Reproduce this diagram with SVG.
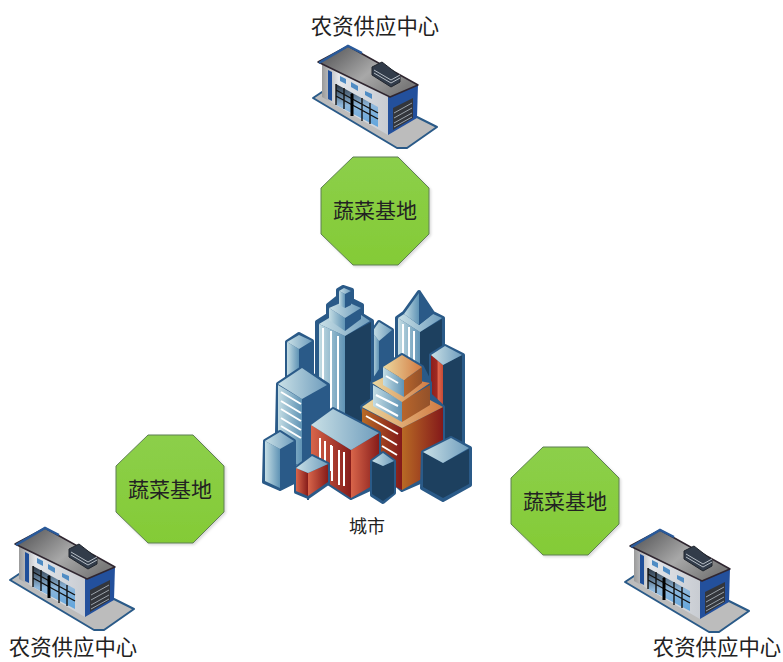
<svg xmlns="http://www.w3.org/2000/svg" xmlns:xlink="http://www.w3.org/1999/xlink" width="783" height="662" viewBox="0 0 783 662">
<style>
text{font-family:"Noto Sans CJK SC","Noto Sans CJK JP",sans-serif;fill:#222;text-anchor:middle}
.lab{font-size:21px}
.oct{fill:url(#gr);stroke:#5f7f55;stroke-width:1;filter:url(#sh)}
.out{stroke:#2a5a88;stroke-width:4;stroke-linejoin:round;fill:#2a5a88}
.glass{fill:url(#glass)}.top{fill:url(#top)}.blue{fill:#2a5a88}.navy{fill:#1d405f}
.red{fill:url(#red)}.brick{fill:url(#brick)}.tan{fill:url(#tan)}.brown{fill:url(#brown)}.org{fill:url(#org)}
.w{stroke:#fff;stroke-width:2;fill:none}
.k{stroke:#111;stroke-width:1.4;fill:none}
</style>
<defs>
<filter id="sh" x="-10%" y="-10%" width="125%" height="125%"><feDropShadow dx="1.5" dy="1.5" stdDeviation="1.2" flood-color="#000" flood-opacity=".15"/></filter>
<linearGradient id="gr" x1="0" y1="0" x2="0" y2="1"><stop offset="0" stop-color="#8ccf4a"/><stop offset="1" stop-color="#84cb36"/></linearGradient>
<linearGradient id="glass"><stop offset="0" stop-color="#c4dde4"/><stop offset="1" stop-color="#5f93b5"/></linearGradient>
<linearGradient id="top"><stop offset="0" stop-color="#c9e0e6"/><stop offset="1" stop-color="#6f9dbd"/></linearGradient>
<linearGradient id="red"><stop offset="0" stop-color="#d8654a"/><stop offset="1" stop-color="#861c1a"/></linearGradient>
<linearGradient id="brick"><stop offset="0" stop-color="#8c1f1c"/><stop offset=".5" stop-color="#a02a22"/><stop offset=".6" stop-color="#e0664c"/><stop offset="1" stop-color="#c44a35"/></linearGradient>
<linearGradient id="tan"><stop offset="0" stop-color="#ecd9a0"/><stop offset="1" stop-color="#d27a42"/></linearGradient>
<linearGradient id="brown"><stop offset="0" stop-color="#b86a25"/><stop offset="1" stop-color="#84191a"/></linearGradient>
<linearGradient id="org"><stop offset="0" stop-color="#b8662c"/><stop offset="1" stop-color="#93512a"/></linearGradient>
<linearGradient id="roof" x1="0" y1="0" x2="1" y2=".6"><stop offset="0" stop-color="#4a4a4c"/><stop offset=".6" stop-color="#a8a8a8"/><stop offset="1" stop-color="#7a7a7a"/></linearGradient>
<linearGradient id="wall"><stop offset="0" stop-color="#9a9a9a"/><stop offset=".25" stop-color="#e4e6ea"/><stop offset="1" stop-color="#c8ccd2"/></linearGradient>
<linearGradient id="win" x1="0" y1="0" x2="0" y2="1"><stop offset="0" stop-color="#26303c"/><stop offset=".5" stop-color="#8fb8dc"/><stop offset="1" stop-color="#5fa4dc"/></linearGradient>
<g id="wh">
<polygon points="313,98 322,92 417,117 437,127 407,148 397,148" fill="#bcbcbc" stroke="#2a5a88" stroke-width="2" stroke-linejoin="round"/>
<polygon points="322,63 322,97 388,135 388,97" fill="url(#wall)"/>
<polygon points="328,70 332,72 332,101 328,99" fill="#1f4f9a"/>
<polygon points="336,84 378,107 378,127 336,105" fill="url(#win)"/>
<path class="k" d="M336,84V105M344,88V109M352,93V116M362,98V121M370,103V124M336,90L378,113M336,96L378,119"/>
<path d="M352,94V116" stroke="#000" stroke-width="3"/>
<polygon points="340,76 346,79 346,84 340,81" fill="#4f8cc4"/><polygon points="351,82 358,86 358,91 351,87" fill="#4f8cc4"/><polygon points="365,91 372,94 372,99 365,95" fill="#4f8cc4"/>
<polygon points="388,97 418,84 417,118 388,135" fill="#23509c"/>
<polygon points="393,108 413,98 413,118 393,130" fill="#33363c"/>
<path d="M394,113L412,103M394,118L412,108M394,123L412,113M394,127L412,117" stroke="#9aa2aa" stroke-width="1"/>
<polygon points="318,62 348,46 418,85 390,97" fill="url(#roof)" stroke="#2f2630" stroke-width="1.5" stroke-linejoin="round"/>
<path d="M319,63L348,46L362,53" fill="none" stroke="#2a5a9a" stroke-width="2.5"/>
<polygon points="372,67 382,62 400,76 400,82 391,87 372,75" fill="#323c4a" stroke="#20252d" stroke-width="1"/>
<path d="M374,73L391,83L400,78M374,70L391,80L400,75" stroke="#b7bec6" stroke-width="1" fill="none"/>
</g>
</defs>
<rect width="783" height="662" fill="#fff"/>

<g id="supply-top"><use xlink:href="#wh" href="#wh"/><text class="lab" x="375" y="34" style="font-size:21.4px">农资供应中心</text></g>
<g id="supply-left"><use xlink:href="#wh" href="#wh" transform="translate(-303,482)"/><text class="lab" x="73" y="655" style="font-size:21.4px">农资供应中心</text></g>
<g id="supply-right"><use xlink:href="#wh" href="#wh" transform="translate(312,484)"/><text class="lab" x="717" y="655" style="font-size:21.4px">农资供应中心</text></g>

<g id="base-top"><polygon class="oct" points="353,157 398,157 429,188 429,234 398,265 353,265 321,234 321,188"/><text class="lab" x="375" y="218">蔬菜基地</text></g>
<g id="base-left"><polygon class="oct" points="148,435 193,435 224,466 224,512 193,543 148,543 116,512 116,466"/><text class="lab" x="170" y="497">蔬菜基地</text></g>
<g id="base-right"><polygon class="oct" points="543,447 588,447 619,478 619,524 588,555 543,555 511,524 511,478"/><text class="lab" x="565" y="509">蔬菜基地</text></g>

<g id="city">
<polygon class="out" points="287,342 299,334 312,341 312,400 287,400"/>
<polygon class="glass" points="287,342 299,349 299,400 287,400"/><polygon class="blue" points="299,349 312,341 312,400 299,400"/>
<polygon class="top" points="287,342 299,335 312,341 299,349"/>
<polygon class="out" points="372,332 379,322 392,330 392,400 372,400"/>
<polygon class="glass" points="372,332 379,341 379,400 372,400"/><polygon class="blue" points="379,341 392,330 392,400 379,400"/>
<polygon class="top" points="372,332 379,322 392,330 379,341"/>
<polygon class="out" points="338,290 343,287 352,290 352,300 362,305 362,315 372,321 372,425 317,425 317,322 328,315 328,305 338,297"/>
<polygon class="glass" points="319,324 345,336 345,425 319,425"/><polygon class="navy" points="345,336 371,322 371,425 345,425"/>
<path class="w" d="M323,328V420M331,331V420M338,336V420"/>
<polygon class="top" points="319,324 329,318 345,328 361,315 370,321 345,336"/>
<polygon class="glass" points="329,308 345,318 345,331 329,320"/><polygon class="blue" points="345,318 361,308 361,319 345,331"/>
<polygon class="top" points="329,308 345,301 361,308 345,318"/>
<polygon class="glass" points="339,291 345,294 345,308 339,305"/><polygon class="blue" points="345,294 351,291 351,305 345,308"/>
<polygon class="top" points="339,291 344,288 351,291 345,294"/>
<polygon class="out" points="419,292 433,313 443,318 443,425 397,425 397,318 404,313"/>
<polygon class="glass" points="398,318 420,332 420,425 398,425"/><polygon class="navy" points="420,332 442,319 442,425 420,425"/>
<path class="w" d="M403,324V390M409,327V395M414,331V395"/>
<polygon class="top" points="398,318 404,314 419,325 433,314 442,318 420,332"/>
<polygon class="glass" points="404,314 419,293 419,325"/><polygon class="blue" points="419,293 433,314 419,325"/>
<polygon class="out" points="431,355 445,346 463,355 463,445 431,445"/>
<polygon class="brick" points="431,355 443,365 443,445 431,445"/><polygon class="navy" points="443,365 462,355 462,445 443,445"/>
<polygon class="top" points="431,355 445,346 462,355 443,365"/>
<polygon class="out" points="278,384 302,368 328,385 328,470 302,470 277,433"/>
<polygon class="glass" points="278,385 302,399 302,470 278,445"/><polygon class="blue" points="302,399 327,385 327,470 302,470"/>
<path class="w" d="M281,392L301,404M281,401L301,413M281,409L301,421M281,418L301,430M281,426L301,438"/>
<polygon class="top" points="278,384 302,368 327,385 302,399"/>
<polygon class="out" points="265,441 280,432 294,441 294,482 280,489 264,482"/>
<polygon class="glass" points="265,441 280,449 280,488 265,481"/><polygon class="blue" points="280,449 294,441 294,482 280,488"/>
<polygon class="top" points="265,441 280,432 294,441 280,449"/>
<polygon class="out" points="362,407 372,400 372,383 383,367 402,355 422,367 430,383 430,395 443,407 443,455 425,480 402,490 380,470"/>
<polygon class="brown" points="362,408 402,428 402,490 362,470"/>
<polygon class="brown" points="402,428 443,407 443,467 402,490"/>
<polygon class="tan" points="362,407 375,398 402,405 430,400 443,407 402,428"/>
<path class="w" d="M366,416L398,434" stroke-width="1"/>
<path class="w" d="M382,436L397,445M382,446L397,455" stroke-width="2.4"/>
<polygon class="glass" points="373,385 402,401 402,422 373,406"/><polygon class="org" points="402,401 430,385 430,405 402,422"/>
<path class="w" d="M376,395L398,406M376,404L398,416"/>
<polygon class="tan" points="372,383 388,375 430,383 402,402"/>
<polygon class="glass" points="383,367 404,380 404,397 383,385"/><polygon class="org" points="404,380 422,367 422,383 404,397"/>
<path class="w" d="M386,376L398,383"/>
<polygon class="tan" points="383,367 402,355 422,367 404,380"/>
<polygon class="out" points="423,452 451,438 470,448 470,485 443,500 422,488"/>
<polygon class="navy" points="423,452 443,463 443,498 423,487"/><polygon class="navy" points="443,463 469,449 469,484 443,498"/>
<polygon class="top" points="423,452 451,438 469,448 443,463"/>
<polygon class="out" points="311,425 333,409 379,433 379,485 351,498 328,483 311,470"/>
<polygon class="red" points="311,425 351,450 351,498 311,472"/>
<polygon class="red" points="351,450 379,433 379,482 351,498"/>
<path class="w" d="M320,438V458M325,441V462M331,445V471"/>
<path class="w" d="M332,446V481M339,450V485M344,452V486" stroke-width="2.2"/>
<polygon class="top" points="311,425 333,409 379,433 351,450"/>
<polygon class="out" points="296,468 312,456 328,464 328,483 308,497 296,492"/>
<path d="M308,497v3" stroke="#2a5a88" stroke-width="2"/>
<polygon class="red" points="296,468 308,473 308,496 296,491"/><polygon class="red" points="308,473 328,464 328,482 308,496"/>
<polygon class="top" points="296,468 312,456 328,464 308,473"/>
<polygon class="out" points="372,461 383,453 394,461 394,493 383,502 372,495"/>
<polygon class="navy" points="372,461 383,466 383,501 372,494"/><polygon class="navy" points="383,466 394,461 394,493 383,501"/>
<polygon class="top" points="372,461 383,453 394,461 383,466"/>
<text x="367" y="533" font-size="18">城市</text>
</g>
</svg>
